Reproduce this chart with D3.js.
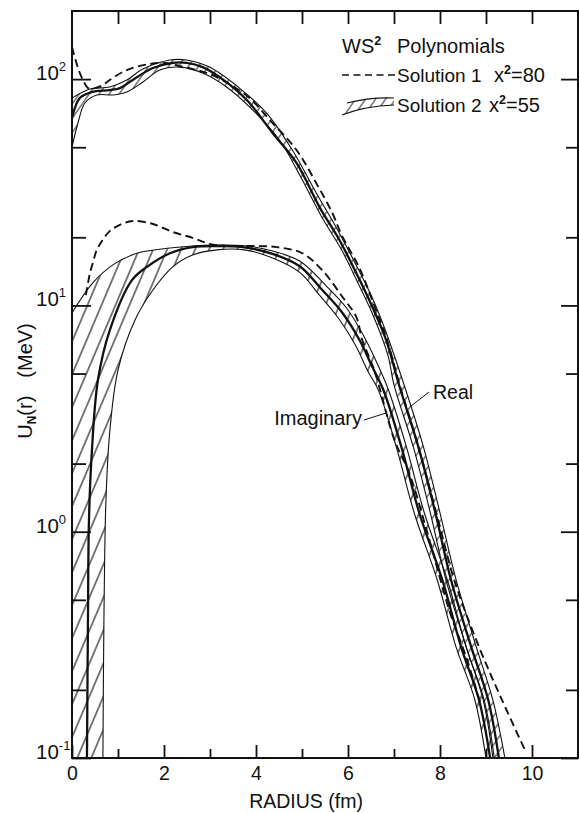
<!DOCTYPE html>
<html><head><meta charset="utf-8">
<script src="https://cdn.jsdelivr.net/npm/d3@7"></script>
<style>
body{margin:0;background:#fff}
text{font-family:"Liberation Sans",Arial,sans-serif;fill:#111}
</style>
</head><body>
<svg id="chart" width="579" height="813"></svg>
<script>
// ---- axis ticks ----
const xTicksMajor = [0, 2, 4, 6, 8, 10];
const xTicksMinor = [1, 3, 5, 7, 9];
const xTicksTop = [1, 2, 3, 4, 5, 6, 7, 8, 9, 10];
const yTicksMajor = [0.1, 1, 10, 100];
const yTickExp = ["-1", "0", "1", "2"];
const yTicksMinor = [0.2, 0.5, 2, 5, 20, 50];

// ---- Solution 1 (dashed), [radius fm, MeV] ----
const realSol1 = [[0,138.7],[0.09,119],[0.17,106.4],[0.26,97.1],[0.35,91.3],[0.50,91.3],[0.67,94.2],[0.82,99.1],[1.19,109.7],[1.69,116.6],[2.02,117.8],[2.34,114.2],[2.99,105.3],[3.49,93.2],[3.86,82.5],[4.30,66.0],[4.88,48.6],[5.31,34.7],[5.66,25.6],[5.86,20.5],[6.25,14.6],[6.57,10.0],[6.85,7.03],[7.11,4.54],[7.53,2.37],[7.92,1.21],[8.31,0.612],[8.85,0.309],[9.35,0.180],[9.87,0.106]];
const imagSol1 = [[0.30,11.1],[0.35,12.6],[0.39,13.9],[0.46,15.6],[0.54,17.6],[0.67,19.5],[0.82,21.3],[1.04,22.7],[1.32,23.6],[1.76,22.9],[2.19,21.1],[2.62,19.9],[2.99,18.7],[3.43,18.3],[3.93,18.3],[4.45,18.1],[5.01,17.0],[5.44,14.3],[5.88,10.9],[6.18,8.89],[6.31,7.03],[6.57,5.18],[7.01,2.54],[7.33,1.82],[7.77,0.919],[8.2,0.451],[8.59,0.271],[8.89,0.171]];

// ---- Solution 2 (hatched band): central, upper, lower ----
const realSol2Mid = [[0,67.3],[0.17,82.5],[0.43,87.7],[0.82,89.5],[1.04,91.3],[1.41,102],[1.76,112],[2.19,118],[2.49,118],[2.84,113],[3.21,102],[3.80,80.8],[4.36,57.8],[4.88,42.6],[5.38,27.2],[5.81,19.5],[6.18,13.9],[6.53,9.84],[6.83,7.03],[7.11,4.45],[7.53,2.37],[7.90,1.21],[8.24,0.612],[8.68,0.309],[9.05,0.180],[9.28,0.1]];
const realSol2Hi = [[0,82.5],[0.39,90.4],[0.82,92.3],[1.19,99.1],[1.54,110.8],[2.13,121.5],[2.49,121.5],[2.99,113],[3.64,91.3],[4.23,70.8],[4.79,48.6],[5.31,31.4],[5.75,22.0],[6.14,15.6],[6.51,11.0],[6.81,7.79],[7.22,4.45],[7.64,2.37],[8.00,1.21],[8.35,0.612],[8.79,0.309],[9.15,0.180],[9.41,0.1]];
const realSol2Lo = [[0,50.1],[0.13,64.0],[0.28,78.4],[0.54,85.1],[0.89,85.1],[1.19,87.7],[1.54,97.1],[1.91,109.7],[2.34,113],[2.84,106.4],[3.36,92.3],[3.93,73.0],[4.51,53.8],[4.95,37.7],[5.42,24.8],[5.86,17.6],[6.23,12.4],[6.57,8.80],[6.87,6.0],[7.0,4.45],[7.42,2.37],[7.79,1.21],[8.13,0.612],[8.57,0.309],[8.94,0.180],[9.15,0.1]];
const imagSol2Mid = [[0.325,0.1],[0.347,0.407],[0.369,1.13],[0.434,2.30],[0.564,4.68],[0.824,7.79],[1.30,12.9],[1.63,14.8],[2.13,17.0],[2.62,18.1],[3.15,18.3],[3.71,18.1],[4.36,16.9],[4.95,14.9],[5.44,11.7],[5.88,9.26],[6.25,7.03],[6.53,5.34],[6.77,4.23],[7.16,2.37],[7.55,1.21],[8.05,0.612],[8.46,0.309],[8.85,0.180],[9.09,0.1]];
const imagSol2Hi = [[0,9.26],[0.456,12.6],[0.889,15.1],[1.41,17.0],[1.91,17.7],[2.62,18.3],[3.15,18.5],[3.80,18.3],[4.36,17.4],[4.95,15.7],[5.51,12.3],[5.97,9.74],[6.33,7.40],[6.62,5.62],[6.88,4.23],[7.27,2.37],[7.66,1.21],[8.16,0.612],[8.57,0.309],[8.96,0.180],[9.18,0.1]];
const imagSol2Lo = [[0.672,0.1],[0.694,0.407],[0.738,1.38],[0.824,2.81],[1.0,5.18],[1.37,8.62],[1.76,11.7],[2.19,14.8],[2.62,16.7],[3.15,17.6],[3.75,17.6],[4.36,16.2],[4.95,14.0],[5.38,11.1],[5.79,8.80],[6.16,6.68],[6.44,5.08],[6.66,4.23],[7.05,2.37],[7.44,1.21],[7.94,0.612],[8.35,0.309],[8.76,0.180],[9.0,0.1]];

const legendTitle = "WS";
const legendEntries = [["Solution 1", "80"], ["Solution 2", "55"]];

// ---- layout ----
const mLeft = 72, mRight = 578, mTop = 11, mBottom = 758;
const x = d3.scaleLinear().domain([0, 11]).range([mLeft, mRight]);
const y = d3.scaleLog().domain([0.1, 200]).range([mBottom, mTop]);
const ink = "#111";

const svg = d3.select("#chart");
const defs = svg.append("defs");
defs.append("clipPath").attr("id", "plotclip").append("rect")
  .attr("x", mLeft).attr("y", mTop).attr("width", mRight - mLeft).attr("height", mBottom - mTop);
const pat = defs.append("pattern").attr("id", "hatch").attr("patternUnits", "userSpaceOnUse")
  .attr("width", 14).attr("height", 10).attr("patternTransform", "skewX(-23)");
pat.append("line").attr("x1", 7).attr("y1", -1).attr("x2", 7).attr("y2", 11)
  .attr("stroke", ink).attr("stroke-width", 1.2);
const pat2 = defs.append("pattern").attr("id", "hatch2").attr("patternUnits", "userSpaceOnUse")
  .attr("width", 10).attr("height", 10).attr("patternTransform", "skewX(-35)");
pat2.append("line").attr("x1", 5).attr("y1", -1).attr("x2", 5).attr("y2", 11)
  .attr("stroke", ink).attr("stroke-width", 1.1);

const line = d3.line().x(d => x(d[0])).y(d => y(d[1])).curve(d3.curveCatmullRom.alpha(0.5));

const plot = svg.append("g").attr("clip-path", "url(#plotclip)");

function band(hi, lo, fillId, closeCorner) {
  const up = line(hi);
  const dn = line(lo.slice().reverse()).replace(/^M/, "L");
  let d = up + dn;
  if (closeCorner) d += "L" + x(0) + "," + y(0.1);
  d += "Z";
  plot.append("path").attr("d", d).attr("fill", "url(#" + fillId + ")").attr("stroke", "none");
}
band(imagSol2Hi, imagSol2Lo, "hatch", true);
band(realSol2Hi, realSol2Lo, "hatch2", false);

function curve(data, w, dash) {
  plot.append("path").attr("d", line(data)).attr("fill", "none")
    .attr("stroke", ink).attr("stroke-width", w)
    .attr("stroke-dasharray", dash || null).attr("stroke-linejoin", "round");
}
[imagSol2Hi, imagSol2Lo, realSol2Hi, realSol2Lo].forEach(c => curve(c, 1.1));
[imagSol2Mid, realSol2Mid].forEach(c => curve(c, 2.3));
[realSol1, imagSol1].forEach(c => curve(c, 1.9, "8,4.5"));

// ---- axes ----
function styleAxis(g) {
  g.select(".domain").remove();
  g.selectAll(".tick line").attr("stroke", ink).attr("stroke-width", 1.8);
}
svg.append("g").attr("transform", `translate(0,${mBottom})`)
  .call(d3.axisBottom(x).tickValues(xTicksMajor).tickSizeInner(-13).tickSizeOuter(0).tickPadding(8))
  .call(styleAxis)
  .call(g => g.selectAll("text").attr("font-size", 19.5).attr("fill", ink)
        .attr("font-family", "Liberation Sans, Arial, sans-serif"));
svg.append("g").attr("transform", `translate(0,${mBottom})`)
  .call(d3.axisBottom(x).tickValues(xTicksMinor).tickSizeInner(-9).tickSizeOuter(0).tickFormat(""))
  .call(styleAxis);
svg.append("g").attr("transform", `translate(0,${mTop})`)
  .call(d3.axisTop(x).tickValues(xTicksTop).tickSizeInner(-13).tickSizeOuter(0).tickFormat(""))
  .call(styleAxis);
svg.append("g").attr("transform", `translate(${mLeft},0)`)
  .call(d3.axisLeft(y).tickValues(yTicksMajor).tickSizeInner(-19).tickSizeOuter(0).tickFormat(""))
  .call(styleAxis);
svg.append("g").attr("transform", `translate(${mLeft},0)`)
  .call(d3.axisLeft(y).tickValues(yTicksMinor).tickSizeInner(-14).tickSizeOuter(0).tickFormat(""))
  .call(styleAxis);
svg.append("g").attr("transform", `translate(${mRight},0)`)
  .call(d3.axisRight(y).tickValues(yTicksMajor).tickSizeInner(-17).tickSizeOuter(0).tickFormat(""))
  .call(styleAxis);
svg.append("g").attr("transform", `translate(${mRight},0)`)
  .call(d3.axisRight(y).tickValues(yTicksMinor).tickSizeInner(-12).tickSizeOuter(0).tickFormat(""))
  .call(styleAxis);

// frame
svg.append("rect").attr("x", mLeft).attr("y", mTop).attr("width", mRight - mLeft).attr("height", mBottom - mTop)
  .attr("fill", "none").attr("stroke", ink).attr("stroke-width", 2);

// y tick labels with exponents
yTicksMajor.forEach((v, i) => {
  const t = svg.append("text").attr("x", 36).attr("y", y(v) + 1).attr("font-size", 20.5);
  t.append("tspan").text("10");
  t.append("tspan").attr("dy", -9).attr("font-size", 13).text(yTickExp[i]);
});

// axis titles
svg.append("text").attr("x", 306).attr("y", 808).attr("text-anchor", "middle")
  .attr("font-size", 19.5).text("RADIUS (fm)");
const yt = svg.append("text").attr("transform", "translate(32,381) rotate(-90)")
  .attr("text-anchor", "middle").attr("font-size", 20);
yt.append("tspan").text("U");
yt.append("tspan").attr("font-size", 12).attr("font-weight", "bold").attr("dy", 4).text("N");
yt.append("tspan").attr("dy", -4).text("(r)");
yt.append("tspan").attr("dx", 18).text("(MeV)");

// curve labels
svg.append("text").attr("x", 433).attr("y", 399).attr("font-size", 19.5).text("Real");
svg.append("line").attr("x1", 411).attr("y1", 406).attr("x2", 429).attr("y2", 392)
  .attr("stroke", ink).attr("stroke-width", 1);
svg.append("text").attr("x", 362).attr("y", 425).attr("text-anchor", "end").attr("font-size", 20).text("Imaginary");
svg.append("line").attr("x1", 364).attr("y1", 420).attr("x2", 386).attr("y2", 413)
  .attr("stroke", ink).attr("stroke-width", 1);

// legend
const lt = svg.append("text").attr("x", 342).attr("y", 53).attr("font-size", 20);
lt.append("tspan").text(legendTitle);
lt.append("tspan").attr("dy", -8).attr("font-size", 12.5).attr("font-weight", "bold").text("2");
lt.append("tspan").attr("dy", 8).attr("x", 397).text("Polynomials");

svg.append("line").attr("x1", 342).attr("x2", 396).attr("y1", 75).attr("y2", 75)
  .attr("stroke", ink).attr("stroke-width", 1.6).attr("stroke-dasharray", "7,4.5");
legendEntries.forEach((e, i) => {
  const ty = 82 + i * 30;
  const t = svg.append("text").attr("x", 397).attr("y", ty).attr("font-size", 19);
  t.append("tspan").text(e[0]);
  t.append("tspan").attr("x", i === 0 ? 494 : 489).attr("font-size", 20).text("x");
  t.append("tspan").attr("dy", -8).attr("font-size", 12.5).attr("font-weight", "bold").text("2");
  t.append("tspan").attr("dy", 8).attr("font-size", 20).text("=" + e[1]);
});
// hatched band icon
const iconTop = "M347,103 Q370,97 394,98";
const iconBot = "M342,115 Q365,106 394,105";
svg.append("path").attr("d", "M347,103 Q370,97 394,98 L394,105 Q365,106 342,115 Z")
  .attr("fill", "url(#hatch2)").attr("stroke", "none");
svg.append("path").attr("d", iconTop).attr("fill", "none").attr("stroke", ink).attr("stroke-width", 1.1);
svg.append("path").attr("d", iconBot).attr("fill", "none").attr("stroke", ink).attr("stroke-width", 1.1);
</script>
</body></html>
